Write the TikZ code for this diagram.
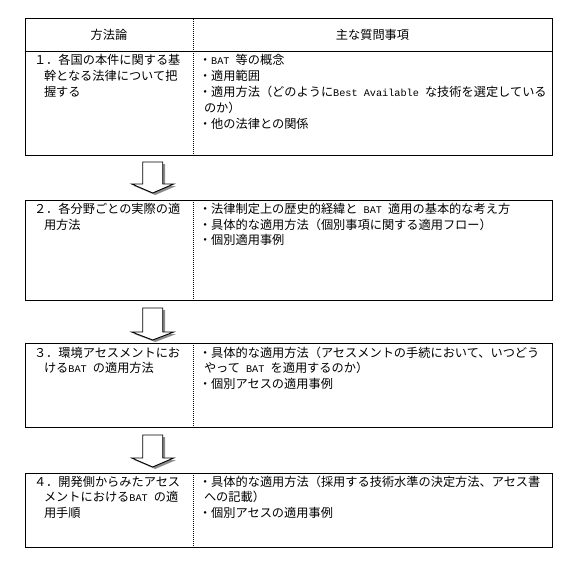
\documentclass[tikz,border=0pt]{standalone}
\usepackage{fontspec}
\setmainfont{Noto Sans CJK JP}
\newfontfamily\hwfont{Liberation Mono}
\newcommand\hw[1]{{\hwfont\fontsize{10.2bp}{12bp}\selectfont #1}}
\usetikzlibrary{calc}
\tikzset{
  tblline/.style={draw=black, line width=1bp},
  divider/.style={draw=black, line width=0.8bp, dash pattern=on 1bp off 1bp},
  txt/.style={anchor=base west, inner sep=0pt, outer sep=0pt, font=\fontsize{12.2bp}{15bp}\selectfont},
  head/.style={anchor=base, inner sep=0pt, outer sep=0pt, font=\fontsize{12.2bp}{15bp}\selectfont},
  arrowbody/.style={draw=black, fill=white, line width=0.9bp, line join=miter},
  arrowshadow/.style={fill=black!45, draw=none},
}
\newcommand\blkarrow[4]{%
  \fill[arrowshadow] ({#1-10+2.5},{#2+2}) -- ({#1-10+2.5},{#3+2}) -- ({#1-21+2.5},{#3+2}) -- ({#1+2.5},{#4+2}) -- ({#1+21+2.5},{#3+2}) -- ({#1+10+2.5},{#3+2}) -- ({#1+10+2.5},{#2+2}) -- cycle;
  \filldraw[arrowbody] ({#1-10},{#2}) -- ({#1-10},{#3}) -- ({#1-21},{#3}) -- ({#1},{#4}) -- ({#1+21},{#3}) -- ({#1+10},{#3}) -- ({#1+10},{#2}) -- cycle;
}
\begin{document}
\begin{tikzpicture}[x=1bp,y=-1bp]
\useasboundingbox (0,0) rectangle (562,575);
\fill[white] (0,0) rectangle (562,575);

% ---- box 1 with header ----
\coordinate (b1nw) at (25,19);
\coordinate (b1se) at (552,156);
\draw[divider] (193,19) -- (193,156);
\draw[tblline] (25,52) -- (552,52);
\draw[tblline] (b1nw) rectangle (b1se);
\node[head] (h1) at (109,40) {方法論};
\node[head] (h2) at (372.5,40) {主な質問事項};

\node[txt] (l1a) at (34,64.5) {１．各国の本件に関する基};
\node[txt] (l1b) at (44,80.5) {幹となる法律について把};
\node[txt] (l1c) at (44,96.5) {握する};

\node[txt] (r1a) at (199,64.5) {・\hw{BAT }等の概念};
\node[txt] (r1b) at (199,80.5) {・適用範囲};
\node[txt] (r1c) at (199,96.5) {・適用方法（どのように\hw{Best Available }な技術を選定している};
\node[txt] (r1d) at (204,112.5) {のか）};
\node[txt] (r1e) at (199,128.5) {・他の法律との関係};

% ---- arrow 1 ----
\blkarrow{152.7}{162}{184}{193}

% ---- box 2 ----
\coordinate (b2nw) at (25,200);
\coordinate (b2se) at (552,300);
\draw[divider] (193,200) -- (193,300);
\draw[tblline] (b2nw) rectangle (b2se);
\node[txt] (l2a) at (34,213.5) {２．各分野ごとの実際の適};
\node[txt] (l2b) at (44,229) {用方法};
\node[txt] (r2a) at (199,213.5) {・法律制定上の歴史的経緯と\hw{ BAT }適用の基本的な考え方};
\node[txt] (r2b) at (199,229) {・具体的な適用方法（個別事項に関する適用フロー）};
\node[txt] (r2c) at (199,244.5) {・個別適用事例};

% ---- arrow 2 ----
\blkarrow{152.7}{308}{332}{340}

% ---- box 3 ----
\coordinate (b3nw) at (25,343);
\coordinate (b3se) at (552,427);
\draw[divider] (193,343) -- (193,427);
\draw[tblline] (b3nw) rectangle (b3se);
\node[txt] (l3a) at (34,357) {３．環境アセスメントにお};
\node[txt] (l3b) at (44,372.5) {ける\hw{BAT }の適用方法};
\node[txt] (r3a) at (199,357) {・具体的な適用方法（アセスメントの手続において、いつどう};
\node[txt] (r3b) at (204,372.5) {やって\hw{ BAT }を適用するのか）};
\node[txt] (r3c) at (199,388) {・個別アセスの適用事例};

% ---- arrow 3 ----
\blkarrow{152.7}{435}{458}{467}

% ---- box 4 ----
\coordinate (b4nw) at (25,473);
\coordinate (b4se) at (552,547);
\draw[divider] (193,473) -- (193,547);
\draw[tblline] (b4nw) rectangle (b4se);
\node[txt] (l4a) at (34,486) {４．開発側からみたアセス};
\node[txt] (l4b) at (44,501.5) {メントにおける\hw{BAT }の適};
\node[txt] (l4c) at (44,517) {用手順};
\node[txt] (r4a) at (199,486) {・具体的な適用方法（採用する技術水準の決定方法、アセス書};
\node[txt] (r4b) at (204,501.5) {への記載）};
\node[txt] (r4c) at (199,517) {・個別アセスの適用事例};
\end{tikzpicture}
\end{document}
